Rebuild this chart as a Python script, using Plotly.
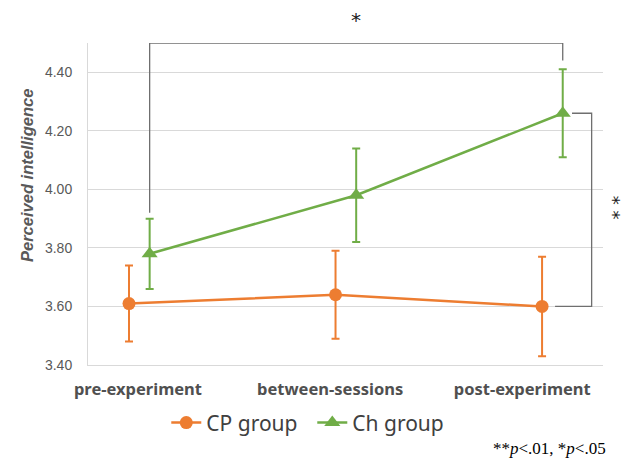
import plotly.graph_objects as go

# ---- data ----
categories = ["pre-experiment", "between-sessions", "post-experiment"]
cp_mean = [3.61, 3.64, 3.60]
cp_hi = [3.74, 3.79, 3.77]
cp_lo = [3.48, 3.49, 3.43]
ch_mean = [3.78, 3.98, 4.26]
ch_hi = [3.90, 4.14, 4.41]
ch_lo = [3.66, 3.82, 4.11]
y_ticks = [3.40, 3.60, 3.80, 4.00, 4.20, 4.40]

ORANGE = "#ED7D31"
GREEN = "#70AD47"
GRID = "#d9d9d9"
TXT = "#595959"

idx = list(range(len(categories)))
ch_offset = 0.1
x_cp = [i for i in idx]
x_ch = [i + ch_offset for i in idx]

fig = go.Figure()
fig.add_trace(go.Scatter(
    x=x_cp, y=cp_mean, name="CP group", mode="lines+markers",
    line=dict(color=ORANGE, width=2.5),
    marker=dict(symbol="circle", size=13, color=ORANGE),
    error_y=dict(type="data", symmetric=False,
                 array=[h - m for h, m in zip(cp_hi, cp_mean)],
                 arrayminus=[m - l for m, l in zip(cp_mean, cp_lo)],
                 color=ORANGE, thickness=2, width=4),
))
fig.add_trace(go.Scatter(
    x=x_ch, y=ch_mean, name="Ch group", mode="lines+markers",
    line=dict(color=GREEN, width=2.5),
    marker=dict(symbol="triangle-up", size=14, color=GREEN),
    error_y=dict(type="data", symmetric=False,
                 array=[h - m for h, m in zip(ch_hi, ch_mean)],
                 arrayminus=[m - l for m, l in zip(ch_mean, ch_lo)],
                 color=GREEN, thickness=2, width=4),
))
# carrier trace for the category label axis
fig.add_trace(go.Scatter(x=idx, y=[None] * len(idx), xaxis="x2", mode="lines",
                         showlegend=False, hoverinfo="skip"))

# significance brackets
BR = "#6f6f6f"
top_y = 4.5
fig.add_shape(type="path",
              path=(f"M {x_ch[0]},{ch_hi[0] + 0.02} L {x_ch[0]},{top_y} "
                    f"L {x_ch[2]},{top_y} L {x_ch[2]},{ch_hi[2] + 0.03}"),
              xref="x", yref="y", line=dict(color=BR, width=1.3), layer="above")
rx = x_ch[2] + 0.14
fig.add_shape(type="path",
              path=(f"M {x_ch[2] + 0.045},{ch_mean[2]} L {rx},{ch_mean[2]} "
                    f"L {rx},{cp_mean[2]} L {x_cp[2] + 0.063},{cp_mean[2]}"),
              xref="x", yref="y", line=dict(color=BR, width=1.3), layer="above")

fig.add_annotation(x=(x_ch[0] + x_ch[2]) / 2, y=1.071, xref="x", yref="paper",
                   xanchor="center", yanchor="middle",
                   text="*", showarrow=False,
                   font=dict(family="DejaVu Sans", size=20, color="#1a1a1a"))
fig.add_annotation(x=1.021, y=0.489, xref="paper", yref="paper",
                   xanchor="center", yanchor="middle", textangle=90,
                   text="* *", showarrow=False, borderpad=0,
                   font=dict(family="DejaVu Sans", size=18, color="#1a1a1a"))

fig.add_annotation(x=-0.1184, y=0.587, xref="paper", yref="paper",
                   xanchor="center", yanchor="middle",
                   text="<b><i>Perceived intelligence</i></b>", textangle=-90,
                   showarrow=False,
                   font=dict(family="Liberation Sans", size=16.5, color=TXT))

fig.add_annotation(x=1.0097, y=-0.258, xref="paper", yref="paper",
                   xanchor="right", yanchor="middle",
                   text="**<i>p</i>&lt;.01, *<i>p</i>&lt;.05", showarrow=False,
                   font=dict(family="Liberation Serif", size=17, color="#000000"))

fig.update_layout(
    width=625, height=463,
    margin=dict(l=88, r=22, t=43, b=98),
    plot_bgcolor="white", paper_bgcolor="white",
    showlegend=True,
    legend=dict(orientation="h", x=0.152, y=-0.18, xanchor="left", yanchor="middle",
                font=dict(family="Noto Sans", size=21, color="#404040"),
                bgcolor="rgba(0,0,0,0)", itemwidth=30,
                entrywidth=101, entrywidthmode="pixels"),
    xaxis=dict(range=[-0.1985, 2.295], showgrid=False, zeroline=False,
               showline=True, linecolor=GRID, linewidth=1,
               showticklabels=False, ticks=""),
    xaxis2=dict(range=[-0.26, 2.42], overlaying="x", anchor="y", side="bottom",
                tickmode="array", tickvals=idx,
                ticktext=[f"<b>{c}</b>" for c in categories],
                showgrid=False, zeroline=False, showline=False, ticks="",
                ticklabelstandoff=12,
                tickfont=dict(family="Noto Sans", size=16.5, color="#505050")),
    yaxis=dict(range=[3.4, 4.5], tickvals=y_ticks, tickformat=".2f",
               showgrid=True, gridcolor=GRID, gridwidth=1, zeroline=False,
               showline=True, linecolor=GRID, linewidth=1, ticks="",
               ticklabelstandoff=12,
               tickfont=dict(family="Liberation Sans", size=14, color=TXT)),
)

fig.write_html("out.html")
